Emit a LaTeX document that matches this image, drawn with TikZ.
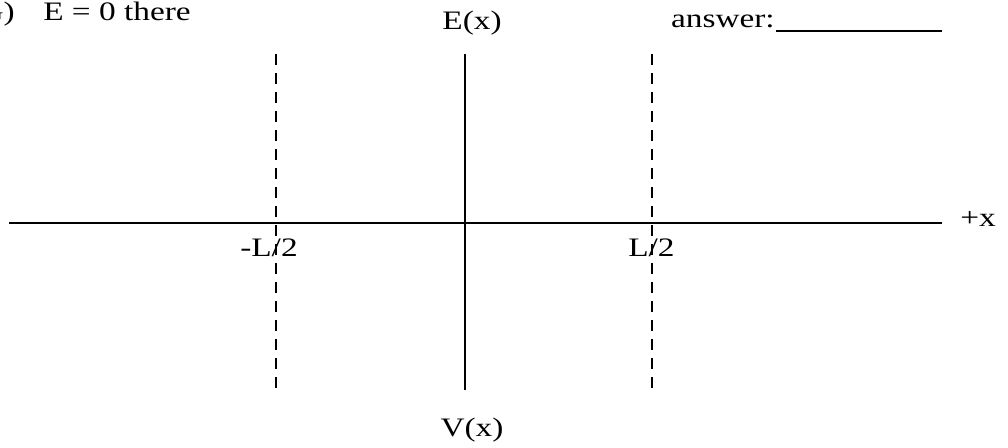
\documentclass[tikz,border=0pt]{standalone}
\usepackage{fontspec}
\setmainfont{Liberation Serif}[FakeStretch=1.25]
\usepackage{tikz}
\usetikzlibrary{positioning}

\begin{document}
\begin{tikzpicture}[x=0.75pt, y=-0.75pt,
  axisline/.style={line width=2pt},
  guide/.style={line width=2pt, dash pattern=on 8.25pt off 6pt},
  lbl/.style={font=\fontsize{20}{24}\selectfont, inner sep=0pt}
]
\useasboundingbox (0,0) rectangle (1008,447);
% axes
\coordinate (xl) at (9,223);
\coordinate (xr) at (942,223);
\coordinate (vt) at (465,54);
\coordinate (vb) at (465,390);
\draw[axisline] (xl) -- (xr);
\draw[axisline] (vt) -- (vb);
% the two boundaries
\coordinate (lt) at (276,54);
\coordinate (lb) at (276,388);
\coordinate (rt) at (652,54);
\coordinate (rb) at (652,388);
\draw[guide] (lt) -- (lb);
\draw[guide] (rt) -- (rb);
% labels
\node[lbl, anchor=base east] (part) at (15,20) {G)};
\node[lbl, anchor=base west] (cond) at (43,20) {E = 0 there};
\node[lbl, anchor=base] (ex) at (472,29) {E(x)};
\node[lbl, anchor=base] (vx) at (472,436) {V(x)};
\node[lbl, anchor=base west] (plusx) at (960,226) {+x};
\node[lbl, anchor=base west] (lhalf) at (240,256) {-L/2};
\node[lbl, anchor=base west] (rhalf) at (628,256) {L/2};
\node[lbl, anchor=base east] (ans) at (775,27) {answer:};
\coordinate (ul) at (776,31);
\coordinate (ur) at (942,31);
\draw[line width=1.8pt] (ul) -- (ur);
\end{tikzpicture}
\end{document}
